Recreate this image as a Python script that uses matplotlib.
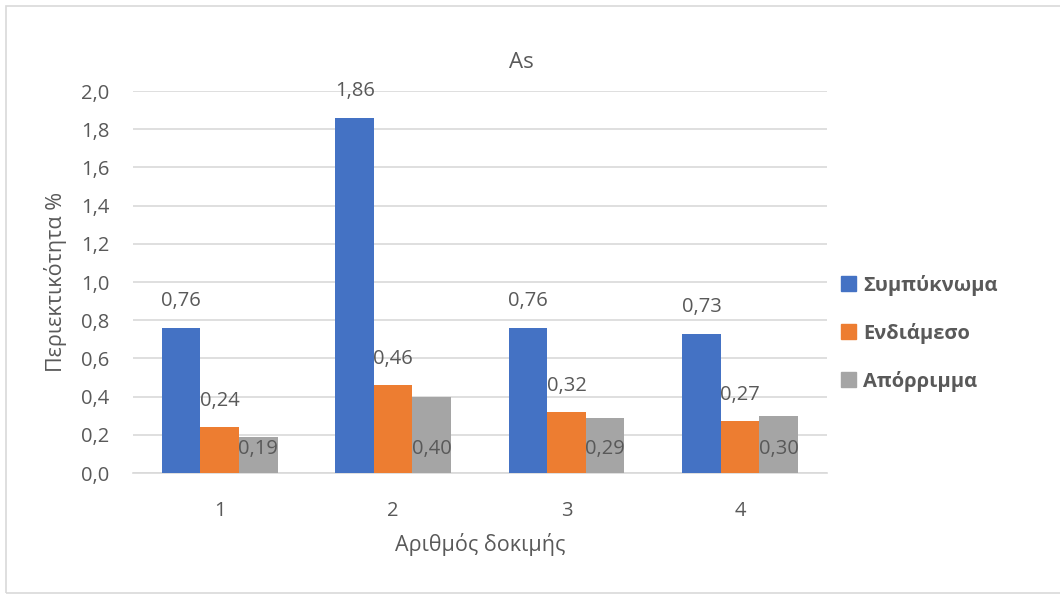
import matplotlib.pyplot as plt
from matplotlib.patches import Rectangle, Patch
import numpy as np

plt.rcParams['font.family'] = ['Open Sans', 'DejaVu Sans']

# Δεδομένα
dokimes = ['1', '2', '3', '4']
sympyknoma = [0.76, 1.86, 0.76, 0.73]
endiameso = [0.24, 0.46, 0.32, 0.27]
aporrimma = [0.19, 0.40, 0.29, 0.30]
onomata = ['Συμπύκνωμα', 'Ενδιάμεσο', 'Απόρριμμα']
xromata = ['#4472C4', '#ED7D31', '#A5A5A5']
yticks = np.arange(0, 2.01, 0.2)

keimeno = '#595959'
plegma = '#D9D9D9'

fig = plt.figure(figsize=(10.6, 5.95), dpi=100)
ax = fig.add_axes([0.1255, 0.205, 0.6545, 0.642])

# πλαίσιο γύρω από το γράφημα
fig.patches.append(Rectangle((6 / 1060, 2 / 595), 1.1, 587 / 595, transform=fig.transFigure,
                             fill=False, edgecolor=plegma, linewidth=1.2, zorder=0))

x = np.arange(len(dokimes))
w = 0.222
seires = [sympyknoma, endiameso, aporrimma]
for i, (vals, c, name) in enumerate(zip(seires, xromata, onomata)):
    pos = x + (i - 1) * w
    ax.bar(pos, vals, width=w, color=c, label=name, zorder=3)
    for p, v in zip(pos, vals):
        lbl = f'{v:.2f}'.replace('.', ',')
        if i == 2:
            # ετικέτες της τρίτης σειράς μέσα στη βάση
            ax.text(p, 0.125, lbl, ha='center', va='center', fontsize=14.5, color=keimeno, zorder=4)
        else:
            ax.annotate(lbl, (p, v), xytext=(0, 19), textcoords='offset points',
                        ha='center', va='center', fontsize=14.5, color=keimeno, zorder=4)

ax.set_xlim(-0.5, len(dokimes) - 0.5)
ax.set_ylim(0, 2.0)
ax.set_xticks(x)
ax.set_xticklabels(dokimes)
ax.set_yticks(yticks)
ax.set_yticklabels([f'{t:.1f}'.replace('.', ',') for t in yticks])
ax.tick_params(axis='both', length=0, labelsize=14.5, labelcolor=keimeno)
ax.tick_params(axis='y', pad=17)
ax.tick_params(axis='x', pad=20)
ax.grid(axis='y', color=plegma, linewidth=1.2, zorder=0)
for s in ['top', 'right', 'left']:
    ax.spines[s].set_visible(False)
ax.spines['bottom'].set_color(plegma)
ax.spines['bottom'].set_linewidth(1.2)

fig.text(521 / 1060, 1 - 63 / 595, 'As', fontsize=16, color=keimeno, ha='center', va='center')
ax.set_xlabel('Αριθμός δοκιμής', fontsize=15.5, color=keimeno, labelpad=9)
ax.set_ylabel('Περιεκτικότητα %', fontsize=15.5, color=keimeno, labelpad=10)

handles = [Patch(color=c) for c in xromata]
fig.legend(handles, onomata, loc='center left', bbox_to_anchor=(0.776, 0.44),
           frameon=False, handlelength=0.75, handleheight=0.75, handletextpad=0.35,
           labelspacing=1.35, prop={'size': 14.5, 'weight': 'bold'}, labelcolor=keimeno)

fig.savefig('out.png', dpi=100)
